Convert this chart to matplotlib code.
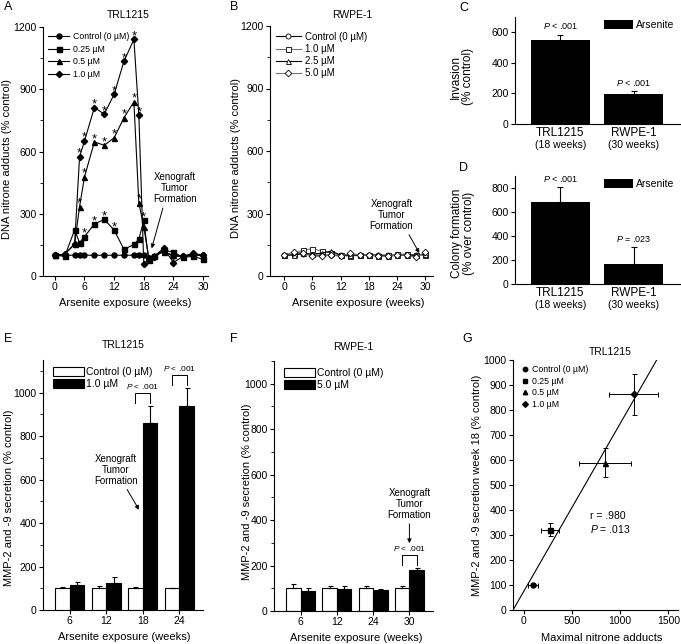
import numpy as np
import matplotlib.pyplot as plt
from matplotlib.ticker import MultipleLocator
from matplotlib.lines import Line2D

plt.rcParams['font.family'] = ['Liberation Sans', 'DejaVu Sans']
plt.rcParams['mathtext.fontset'] = 'custom'
plt.rcParams['mathtext.it'] = 'Liberation Sans:italic'
plt.rcParams['mathtext.rm'] = 'Liberation Sans'

# ---- data -------------------------------------------------------------
# A: TRL1215 DNA nitrone adducts
weeks_a = [0, 2, 4, 5, 6, 8, 10, 12, 14, 16, 17, 18, 19, 20, 22, 24, 26, 28, 30]
trl_ctrl = [100, 100, 100, 100, 100, 100, 100, 100, 100, 100, 100, 100, 85, 90, 120, 95, 95, 100, 100]
trl_025 = [100, 95, 222, 160, 190, 250, 273, 221, 128, 152, 176, 269, 75, 95, 125, 115, 90, 95, 80]
trl_05 = [100, 105, 154, 334, 478, 646, 630, 666, 763, 839, 353, 237, 90, 100, 115, 100, 95, 105, 95]
trl_10 = [100, 105, 154, 574, 651, 812, 780, 876, 1036, 1140, 775, 58, 80, 90, 135, 65, 95, 110, 100]
trl_labels = ['Control (0 \u00b5M)', '0.25 \u00b5M', '0.5 \u00b5M', '1.0 \u00b5M']
sig_025 = [6, 8, 10, 12, 18]
sig_05 = [5, 6, 8, 10, 12, 14, 16, 17]
sig_10 = [5, 6, 8, 10, 12, 14, 16, 17]

# B: RWPE-1 DNA nitrone adducts
weeks_b = [0, 2, 4, 6, 8, 10, 12, 14, 16, 18, 20, 22, 24, 26, 28, 30]
rw_ctrl = [100, 105, 105, 100, 100, 100, 100, 100, 100, 100, 100, 100, 100, 100, 100, 105]
rw_10 = [100, 105, 125, 130, 120, 110, 100, 95, 100, 100, 95, 100, 105, 105, 100, 100]
rw_25 = [100, 100, 110, 105, 110, 120, 100, 100, 100, 100, 100, 95, 100, 100, 100, 105]
rw_50 = [100, 115, 110, 95, 95, 100, 95, 110, 100, 100, 95, 95, 100, 100, 90, 115]
rw_labels = ['Control (0 \u00b5M)', '1.0 \u00b5M', '2.5 \u00b5M', '5.0 \u00b5M']

# C / D
cells = ['TRL1215', 'RWPE-1']
cell_weeks = ['(18 weeks)', '(30 weeks)']
invasion = [550, 193]
invasion_err = [35, 21]
invasion_p = ['$P$ < .001', '$P$ < .001']
colony = [683, 167]
colony_err = [125, 140]
colony_p = ['$P$ < .001', '$P$ = .023']

# E: TRL1215 MMP secretion
weeks_e = ['6', '12', '18', '24']
e_ctrl = [100, 100, 100, 100]
e_ctrl_err = [8, 10, 6, 2]
e_treat = [113, 123, 862, 940]
e_treat_err = [15, 28, 78, 82]

# F: RWPE-1 MMP secretion
weeks_f = ['6', '12', '24', '30']
f_ctrl = [100, 100, 100, 100]
f_ctrl_err = [20, 12, 8, 8]
f_treat = [88, 95, 93, 180]
f_treat_err = [12, 17, 3, 8]

# G: correlation
nitrone = [100, 273, 839, 1140]
nitrone_err = [52, 96, 270, 256]
mmp18 = [100, 322, 590, 862]
mmp18_err = [5, 27, 58, 82]
g_stats = 'r = .980\n$P$ = .013'

# ---- figure -----------------------------------------------------------
W, H = 681, 644
fig = plt.figure(figsize=(W / 100, H / 100), dpi=100)


def px_axes(l, t, r, b):
    ax = fig.add_axes([l / W, 1 - b / H, (r - l) / W, (b - t) / H])
    ax.spines[['top', 'right']].set_visible(False)
    for s in ax.spines.values():
        s.set_linewidth(0.8)
    ax.tick_params(direction='out', length=3, width=0.8, labelsize=7.5, pad=1.5)
    ax.tick_params(which='minor', direction='out', length=2, width=0.6)
    return ax


def fig_text(x, y, s, **kw):
    fig.text(x / W, 1 - y / H, s, **kw)


def labels(ax, xl, yl, ylx, yly, xlx=0.5, xly=-0.088, size=8):
    ax.set_ylabel(yl, fontsize=size)
    ax.yaxis.set_label_coords(ylx, yly)
    if xl:
        ax.set_xlabel(xl, fontsize=size, va='top')
        ax.xaxis.set_label_coords(xlx, xly)


for letter, x, y in [('A', 4, 1), ('B', 230, 1), ('C', 459, 2), ('D', 459, 162),
                     ('E', 4, 333), ('F', 230, 333), ('G', 462, 333)]:
    fig_text(x, y, letter, fontsize=9, va='top', ha='left')

arrow = dict(arrowstyle='-|>', lw=0.7, color='black', mutation_scale=6, shrinkA=1, shrinkB=0)
xeno = 'Xenograft\nTumor\nFormation'

# ---- A ----------------------------------------------------------------
ax = px_axes(43, 27, 208, 276)
markers = ['o', 's', '^', 'D']
for vals, m, lab in zip([trl_ctrl, trl_025, trl_05, trl_10], markers, trl_labels):
    ax.plot(weeks_a, vals, marker=m, color='black', ms=3.6 if m != 'D' else 3.2,
            lw=0.8, label=lab)
for vals, sig in zip([trl_025, trl_05, trl_10], [sig_025, sig_05, sig_10]):
    for w in sig:
        ax.annotate('*', (w, vals[weeks_a.index(w)]), xytext=(0, 0),
                    textcoords='offset points', ha='center', va='baseline', fontsize=9.5)
ax.set_xlim(-2.4, 31)
ax.set_ylim(0, 1200)
ax.xaxis.set_major_locator(MultipleLocator(6))
ax.yaxis.set_major_locator(MultipleLocator(300))
ax.yaxis.set_minor_locator(MultipleLocator(150))
ax.legend(loc='upper left', bbox_to_anchor=(0.0, 1.0), frameon=False, fontsize=6.3,
          handlelength=2.4, labelspacing=0.4, handletextpad=0.4, borderaxespad=0.2)
ax.annotate(xeno, xy=(19.6, 133), xytext=(24.3, 423), ha='center', va='center',
            fontsize=7, linespacing=1.1, arrowprops=dict(arrow, relpos=(0.25, 0)))
labels(ax, 'Arsenite exposure (weeks)', 'DNA nitrone adducts (% control)', -0.19, 0.47)
fig_text(128, 15, 'TRL1215', fontsize=7.5, ha='center', va='center')

# ---- B ----------------------------------------------------------------
ax = px_axes(270, 26, 433, 276)
colors_b = ['black', '0.45', 'black', '0.45']
for vals, m, c, lab in zip([rw_ctrl, rw_10, rw_25, rw_50], markers, colors_b, rw_labels):
    ax.plot(weeks_b, vals, marker=m, color=c, mfc='white', mec='black', mew=0.6,
            ms=3.6 if m != 'D' else 3.4, lw=0.8, label=lab)
ax.set_xlim(-3.0, 31.6)
ax.set_ylim(0, 1200)
ax.xaxis.set_major_locator(MultipleLocator(6))
ax.yaxis.set_major_locator(MultipleLocator(300))
ax.yaxis.set_minor_locator(MultipleLocator(150))
ax.legend(loc='upper left', bbox_to_anchor=(0.0, 1.0), frameon=False, fontsize=7,
          handlelength=2.6, labelspacing=0.22, handletextpad=0.4, borderaxespad=0.2)
ax.annotate(xeno, xy=(28.7, 110), xytext=(22.8, 293), ha='center', va='center',
            fontsize=7, linespacing=1.1, arrowprops=dict(arrow, relpos=(0.85, 0)))
labels(ax, 'Arsenite exposure (weeks)', 'DNA nitrone adducts (% control)', -0.18, 0.47, xlx=0.54)
fig_text(352, 15, 'RWPE-1', fontsize=7.5, ha='center', va='center')


# ---- C / D ------------------------------------------------------------
def cell_bars(ax, vals, errs, ptexts, ymax, ystep, ylabel, ylx, yly):
    x = np.arange(len(cells))
    ax.bar(x, vals, width=0.8, color='black', label='Arsenite',
           yerr=[np.zeros(len(errs)), errs], capsize=2,
           error_kw=dict(lw=0.8, capthick=0.8, ecolor='black'))
    for xi, v, e, p in zip(x, vals, errs, ptexts):
        ax.annotate(p, (xi, v + e), xytext=(0, 2.5), textcoords='offset points',
                    ha='center', va='bottom', fontsize=6.5)
    ax.set_xlim(-0.62, 1.63)
    ax.set_ylim(0, ymax)
    ax.yaxis.set_major_locator(MultipleLocator(ystep))
    ax.set_xticks(x)
    ax.set_xticklabels([])
    ax.tick_params(axis='x', length=0)
    for xi, c, w in zip(x, cells, cell_weeks):
        ax.annotate(c, (xi, 0), xycoords=('data', 'axes fraction'), xytext=(0, -2),
                    textcoords='offset points', ha='center', va='top', fontsize=8.5)
        ax.annotate(w, (xi, 0), xycoords=('data', 'axes fraction'), xytext=(0, -11.5),
                    textcoords='offset points', ha='center', va='top', fontsize=7.5)
    ax.legend(loc='upper right', bbox_to_anchor=(1.0, 1.02), frameon=False, fontsize=7.5,
              handlelength=2.8, handleheight=1.0, handletextpad=0.3, borderaxespad=0.1)
    ax.set_ylabel(ylabel, fontsize=8.5, linespacing=1.0)
    ax.yaxis.set_label_coords(ylx, yly)


ax = px_axes(515, 17, 680, 124)
cell_bars(ax, invasion, invasion_err, invasion_p, 700, 200, 'Invasion\n(% control)', -0.25, 0.44)
ax = px_axes(515, 176, 680, 284)
cell_bars(ax, colony, colony_err, colony_p, 900, 200, 'Colony formation\n(% over control)', -0.24, 0.47)


# ---- E / F ------------------------------------------------------------
def mmp_bars(ax, ticks, ctrl, ctrl_err, treat, treat_err, treat_label, ymax):
    x = np.arange(len(ticks))
    ek = dict(lw=0.8, capthick=0.8, ecolor='black')
    ax.bar(x - 0.2, ctrl, width=0.4, color='white', edgecolor='black', lw=0.8,
           yerr=[np.zeros(len(ctrl)), ctrl_err], capsize=1.8, error_kw=ek,
           label='Control (0 \u00b5M)')
    ax.bar(x + 0.2, treat, width=0.4, color='black', edgecolor='black', lw=0.8,
           yerr=[np.zeros(len(treat)), treat_err], capsize=1.8, error_kw=ek,
           label=treat_label)
    ax.set_xlim(-0.73, 3.65)
    ax.set_ylim(0, ymax)
    ax.set_xticks(x)
    ax.set_xticklabels(ticks)
    ax.yaxis.set_major_locator(MultipleLocator(200))
    ax.yaxis.set_minor_locator(MultipleLocator(100))
    ax.legend(loc='upper left', bbox_to_anchor=(0.02, 1.0), frameon=False, fontsize=7.5,
              handlelength=2.9, handleheight=0.9, labelspacing=0.15,
              handletextpad=0.25, borderaxespad=0.3)


def bracket(ax, i, peak):
    lo, hi = peak + 14, peak + 57
    ax.plot([i - 0.2, i - 0.2, i + 0.2, i + 0.2], [lo, hi, hi, lo], color='black', lw=0.7)
    ax.annotate('$P$ < .001', (i, hi), xytext=(0, 1.5), textcoords='offset points',
                ha='center', va='bottom', fontsize=6)


ax = px_axes(43, 360, 203, 610)
mmp_bars(ax, weeks_e, e_ctrl, e_ctrl_err, e_treat, e_treat_err, '1.0 \u00b5M', 1150)
for i in [2, 3]:
    bracket(ax, i, e_treat[i] + e_treat_err[i])
ax.annotate(xeno, xy=(1.9, 461), xytext=(1.27, 645), ha='center', va='center',
            fontsize=7, linespacing=1.1, arrowprops=dict(arrow, relpos=(0.7, 0)))
labels(ax, 'Arsenite exposure (weeks)', 'MMP-2 and -9 secretion (% control)', -0.18, 0.45,
       xlx=0.51, xly=-0.087)
fig_text(123, 345, 'TRL1215', fontsize=7.5, ha='center', va='center')

ax = px_axes(274, 361, 433, 611)
mmp_bars(ax, weeks_f, f_ctrl, f_ctrl_err, f_treat, f_treat_err, '5.0 \u00b5M', 1100)
bracket(ax, 3, f_treat[3] + f_treat_err[3])
ax.annotate(xeno, xy=(3.0, 298), xytext=(3.0, 471), ha='center', va='center',
            fontsize=7, linespacing=1.1, arrowprops=arrow)
labels(ax, 'Arsenite exposure (weeks)', 'MMP-2 and -9 secretion (% control)', -0.14, 0.476,
       xlx=0.52, xly=-0.087)
fig_text(353, 347, 'RWPE-1', fontsize=7.5, ha='center', va='center')

# ---- G ----------------------------------------------------------------
ax = px_axes(513, 360, 678, 610)
handles = []
for xv, xe, yv, ye, m, lab in zip(nitrone, nitrone_err, mmp18, mmp18_err, markers, trl_labels):
    ax.errorbar(xv, yv, xerr=xe, yerr=ye, fmt=m, color='black', ms=3.6 if m != 'D' else 3.2,
                ecolor='black', elinewidth=0.7, capsize=1.8, capthick=0.7)
    handles.append(Line2D([], [], ls='none', marker=m, color='black',
                          ms=3.2 if m != 'D' else 2.9, label=lab))
slope, icpt = np.polyfit(nitrone, mmp18, 1)
xs = np.array([-110, 1600])
ax.plot(xs, slope * xs + icpt, color='black', lw=0.8)
ax.set_xlim(-110, 1600)
ax.set_ylim(0, 1000)
ax.xaxis.set_major_locator(MultipleLocator(500))
ax.yaxis.set_major_locator(MultipleLocator(100))
ax.legend(handles=handles, loc='upper left', bbox_to_anchor=(0.02, 1.0), frameon=False,
          fontsize=6.3, handlelength=0.8, handletextpad=0.4, labelspacing=0.3,
          borderaxespad=0.2)
ax.text(686, 395, g_stats, fontsize=7.5, va='top', ha='left', linespacing=1.2)
labels(ax, 'Maximal nitrone adducts', 'MMP-2 and -9 secretion week 18 (% control)', -0.19, 0.5,
       xlx=0.54, xly=-0.092)
fig_text(610, 352, 'TRL1215', fontsize=7.5, ha='center', va='center')

fig.savefig('out.png', dpi=100)
